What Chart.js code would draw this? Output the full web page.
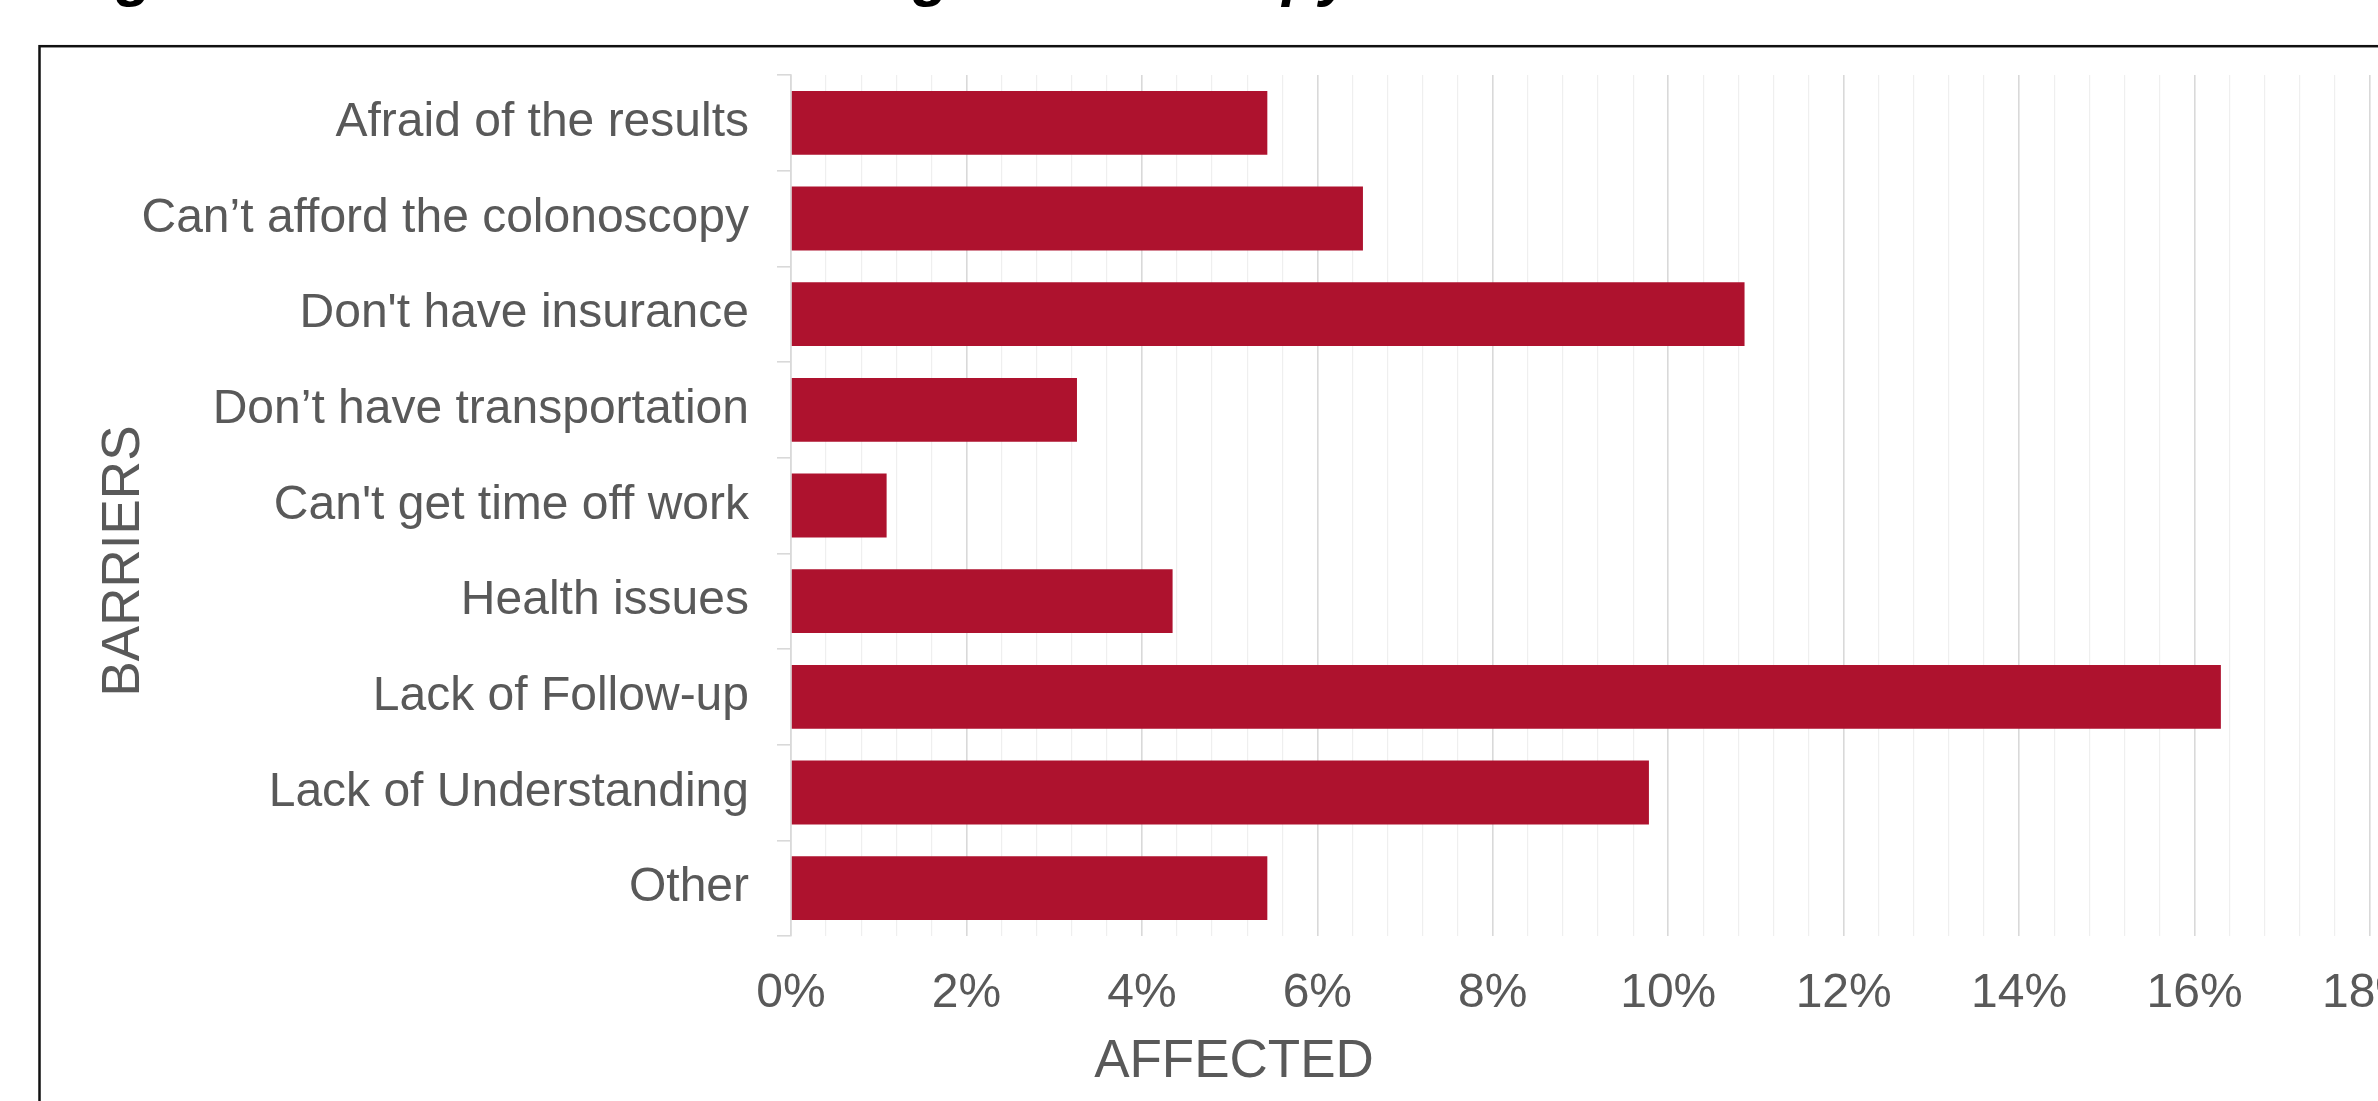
<!DOCTYPE html>
<html>
<head>
<meta charset="utf-8">
<title>Barriers to colonoscopy</title>
<script src="https://cdn.jsdelivr.net/npm/chart.js@4.4.1/dist/chart.umd.min.js"></script>
<style>
  html, body { margin: 0; padding: 0; background: #ffffff; }
  canvas { display: block; }
</style>
</head>
<body>
<canvas id="chart" width="2378" height="1101"></canvas>
<script>
// Barrier categories, top to bottom
const categories = [
  "Afraid of the results",
  "Can\u2019t afford the colonoscopy",
  "Don't have insurance",
  "Don\u2019t have transportation",
  "Can't get time off work",
  "Health issues",
  "Lack of Follow-up",
  "Lack of Understanding",
  "Other"
];
// Share of respondents affected, in percent
const affected = [5.43, 6.52, 10.87, 3.26, 1.09, 4.35, 16.30, 9.78, 5.43];
// Labelled x-axis ticks (percent); minor gridlines fall between them
const xTickValues = [0, 2, 4, 6, 8, 10, 12, 14, 16, 18];
const xMinorStep = 0.4;

const titleText = "Figure 3: Barriers to Receiving Colonoscopy";
const xTitle = "AFFECTED";
const yTitle = "BARRIERS";

const FONT = "'Liberation Sans', Arial, sans-serif";
const GREY_TEXT = "#595959";

const isLabelled = v => xTickValues.some(t => Math.abs(t - v) < 1e-6);

// Frame, clipped figure title and axis titles
const decorations = {
  id: "decorations",
  beforeDraw(chart) {
    const ctx = chart.ctx;
    ctx.save();
    ctx.fillStyle = "#ffffff";
    ctx.fillRect(0, 0, chart.width, chart.height);
    ctx.restore();
  },
  afterDraw(chart) {
    const ctx = chart.ctx;
    ctx.save();
    // chart frame (continues past the canvas edges)
    ctx.strokeStyle = "#111111";
    ctx.lineWidth = 2.5;
    ctx.strokeRect(39.5, 46.2, chart.width + 40, chart.height + 40);

    // figure title sitting above the frame
    ctx.fillStyle = "#000000";
    ctx.font = "italic bold 61px " + FONT;
    ctx.textAlign = "left";
    ctx.textBaseline = "alphabetic";
    ctx.fillText(titleText, 62, -6);

    // axis titles
    ctx.fillStyle = GREY_TEXT;
    ctx.font = "53px " + FONT;
    ctx.textAlign = "center";
    ctx.textBaseline = "middle";
    ctx.fillText(xTitle, 1234, 1062);
    ctx.translate(124, 561);
    ctx.rotate(-Math.PI / 2);
    ctx.fillText(yTitle, 0, 0);
    ctx.restore();
  }
};

new Chart(document.getElementById("chart"), {
  type: "bar",
  data: {
    labels: categories,
    datasets: [{
      data: affected,
      backgroundColor: "#ae122e",
      borderWidth: 0,
      barPercentage: 0.667,
      categoryPercentage: 1.0
    }]
  },
  plugins: [decorations],
  options: {
    indexAxis: "y",
    responsive: false,
    animation: false,
    devicePixelRatio: 1,
    layout: { padding: { top: 75, right: 8, left: 0, bottom: 0 } },
    plugins: {
      legend: { display: false },
      tooltip: { enabled: false },
      title: { display: false }
    },
    scales: {
      x: {
        type: "linear",
        position: "bottom",
        min: 0,
        max: 18,
        ticks: {
          stepSize: xMinorStep,
          autoSkip: false,
          maxRotation: 0,
          padding: 28.5,
          color: GREY_TEXT,
          font: { family: FONT, size: 48 },
          callback: v => isLabelled(v) ? Math.round(v) + "%" : ""
        },
        grid: {
          drawTicks: false,
          color: c => isLabelled(c.tick.value) ? "#d9d9d9" : "#efefef",
          lineWidth: c => isLabelled(c.tick.value) ? 1.6 : 1.2
        },
        border: { display: false },
        afterFit(scale) {
          scale.height = 165;
          scale.paddingLeft = 0;
          scale.paddingRight = 0;
        }
      },
      y: {
        type: "category",
        position: "left",
        offset: true,
        ticks: {
          autoSkip: false,
          padding: 28,
          color: GREY_TEXT,
          font: { family: FONT, size: 48 }
        },
        grid: {
          offset: true,
          drawOnChartArea: false,
          drawTicks: true,
          tickLength: 14,
          color: "#d9d9d9",
          lineWidth: 1.6
        },
        border: { display: true, color: "#d9d9d9", width: 1.6 },
        afterFit(scale) {
          scale.width = 791;
          scale.paddingTop = 0;
          scale.paddingBottom = 0;
        }
      }
    }
  }
});
</script>
</body>
</html>
